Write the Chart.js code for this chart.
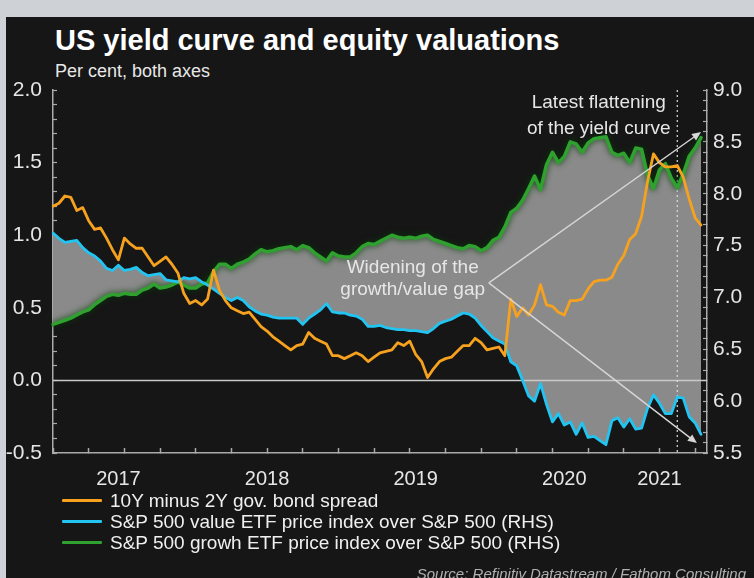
<!DOCTYPE html>
<html>
<head>
<meta charset="utf-8">
<script src="https://cdn.jsdelivr.net/npm/chart.js@4.4.1/dist/chart.umd.min.js"></script>
<style>
  html, body { margin: 0; padding: 0; }
  body { width: 754px; height: 578px; background: #ced2d7; overflow: hidden; position: relative;
         font-family: "Liberation Sans", Arial, sans-serif; }
  #frame { position: absolute; left: 6px; top: 17px; width: 748px; height: 561px; background: #161616; overflow: hidden; }
  #chart { position: absolute; left: 0; top: 0; }
  #title { position: absolute; left: 49px; top: 9px; font-size: 29px; font-weight: bold; color: #fff; line-height: 1; white-space: nowrap; }
  #subtitle { position: absolute; left: 49px; top: 45px; font-size: 18px; color: #e8e8e8; line-height: 1; white-space: nowrap; }
  #legend { position: absolute; left: 56px; top: 473px; }
  .item { display: flex; align-items: center; height: 21px; }
  .swatch { width: 40px; height: 3px; margin-right: 8px; border-radius: 1px; }
  .label { font-size: 19px; color: #f0f0f0; white-space: nowrap; }
  #source { position: absolute; right: 8px; top: 548px; font-size: 15px; font-style: italic; color: #b0b0b0; white-space: nowrap; }
</style>
</head>
<body>
<div id="frame">
  <div id="title">US yield curve and equity valuations</div>
  <div id="subtitle">Per cent, both axes</div>
  <canvas id="chart" width="748" height="561"></canvas>
  <div id="legend"></div>
  <div id="source">Source: Refinitiv Datastream / Fathom Consulting</div>
</div>
<script>
// semi-monthly observations, Jan 2017 to Jul 2021 (last label only extends the axis)
const dates = [
  '2017-01-01','2017-01-16','2017-02-01','2017-02-16','2017-03-01','2017-03-16','2017-04-01','2017-04-16',
  '2017-05-01','2017-05-16','2017-06-01','2017-06-16','2017-07-01','2017-07-16','2017-08-01','2017-08-16',
  '2017-09-01','2017-09-16','2017-10-01','2017-10-16','2017-11-01','2017-11-16','2017-12-01','2017-12-16',
  '2018-01-01','2018-01-16','2018-02-01','2018-02-16','2018-03-01','2018-03-16','2018-04-01','2018-04-16',
  '2018-05-01','2018-05-16','2018-06-01','2018-06-16','2018-07-01','2018-07-16','2018-08-01','2018-08-16',
  '2018-09-01','2018-09-16','2018-10-01','2018-10-16','2018-11-01','2018-11-16','2018-12-01','2018-12-16',
  '2019-01-01','2019-01-16','2019-02-01','2019-02-16','2019-03-01','2019-03-16','2019-04-01','2019-04-16',
  '2019-05-01','2019-05-16','2019-06-01','2019-06-16','2019-07-01','2019-07-16','2019-08-01','2019-08-16',
  '2019-09-01','2019-09-16','2019-10-01','2019-10-16','2019-11-01','2019-11-16','2019-12-01','2019-12-16',
  '2020-01-01','2020-01-16','2020-02-01','2020-02-16','2020-03-01','2020-03-16','2020-04-01','2020-04-16',
  '2020-05-01','2020-05-16','2020-06-01','2020-06-16','2020-07-01','2020-07-16','2020-08-01','2020-08-16',
  '2020-09-01','2020-09-16','2020-10-01','2020-10-16','2020-11-01','2020-11-16','2020-12-01','2020-12-16',
  '2021-01-01','2021-01-16','2021-02-01','2021-02-16','2021-03-01','2021-03-16','2021-04-01','2021-04-16',
  '2021-05-01','2021-05-16','2021-06-01','2021-06-16','2021-07-01','2021-07-16','2021-08-01'
];

// 10Y minus 2Y spread, left axis
const spread = [
  1.20,1.22,1.27,1.26,1.17,1.19,1.10,1.04,1.05,0.98,
  0.90,0.83,0.98,0.94,0.91,0.91,0.85,0.79,0.82,0.85,
  0.80,0.74,0.60,0.53,0.55,0.52,0.56,0.76,0.62,0.55,
  0.50,0.48,0.46,0.47,0.42,0.37,0.34,0.30,0.27,0.24,
  0.21,0.24,0.25,0.33,0.29,0.27,0.25,0.17,0.17,0.15,
  0.17,0.19,0.17,0.13,0.16,0.19,0.20,0.21,0.26,0.24,
  0.27,0.18,0.13,0.02,0.08,0.13,0.15,0.16,0.20,0.24,
  0.24,0.29,0.26,0.21,0.22,0.23,0.17,0.56,0.44,0.50,
  0.45,0.52,0.66,0.52,0.51,0.47,0.45,0.55,0.55,0.56,
  0.63,0.68,0.69,0.69,0.71,0.80,0.86,0.97,1.01,1.13,
  1.37,1.56,1.50,1.47,1.47,1.48,1.40,1.25,1.12,1.07
];

// value ETF over S&P 500, right axis
const valueRatio = [
  7.62,7.57,7.53,7.54,7.55,7.48,7.43,7.40,7.35,7.28,
  7.26,7.31,7.26,7.27,7.29,7.24,7.21,7.22,7.23,7.17,
  7.16,7.15,7.19,7.18,7.19,7.15,7.12,7.08,7.04,7.00,
  6.97,7.00,6.97,6.91,6.87,6.84,6.83,6.81,6.80,6.80,
  6.80,6.80,6.74,6.80,6.84,6.88,6.94,6.86,6.85,6.85,
  6.83,6.82,6.79,6.72,6.72,6.73,6.71,6.70,6.69,6.69,
  6.68,6.68,6.67,6.66,6.70,6.75,6.77,6.79,6.82,6.85,
  6.84,6.80,6.73,6.67,6.61,6.58,6.55,6.38,6.34,6.20,
  6.05,6.00,6.17,5.97,5.80,5.88,5.77,5.80,5.68,5.79,
  5.65,5.66,5.62,5.58,5.81,5.84,5.75,5.83,5.73,5.74,
  5.93,6.06,5.98,5.88,5.88,6.04,6.03,5.85,5.79,5.68
];

// growth ETF over S&P 500, right axis
const growthRatio = [
  6.74,6.76,6.78,6.80,6.83,6.86,6.88,6.93,6.97,7.01,
  7.03,7.02,7.04,7.03,7.03,7.07,7.09,7.13,7.09,7.10,
  7.12,7.15,7.12,7.09,7.09,7.13,7.14,7.25,7.32,7.32,
  7.28,7.32,7.34,7.37,7.42,7.46,7.44,7.45,7.47,7.48,
  7.49,7.46,7.50,7.48,7.43,7.39,7.35,7.43,7.40,7.39,
  7.39,7.43,7.49,7.52,7.51,7.54,7.57,7.60,7.58,7.57,
  7.58,7.57,7.59,7.60,7.56,7.54,7.52,7.50,7.48,7.47,
  7.50,7.49,7.45,7.48,7.55,7.58,7.68,7.82,7.86,7.94,
  8.05,8.17,8.04,8.28,8.40,8.30,8.36,8.50,8.48,8.40,
  8.49,8.53,8.54,8.55,8.40,8.37,8.39,8.30,8.44,8.43,
  8.18,8.05,8.23,8.29,8.15,8.06,8.19,8.36,8.44,8.54
];

const yearTicks = ['2017', '2018', '2019', '2020', '2021'];
const yearTickDates = ['2017-06-16', '2018-07-01', '2019-07-16', '2020-08-01', '2021-04-01'];

const flatDate = '2021-05-16';

function isQuarter(d) {
  return /-(01|04|07|10)-01$/.test(d || '');
}

function halfStepLabel(v) {
  return Math.round(v * 10) % 5 === 0 ? v.toFixed(1) : '';
}

function arrow(ctx, x0, y0, x1, y1) {
  var ang = Math.atan2(y1 - y0, x1 - x0);
  ctx.beginPath();
  ctx.moveTo(x0, y0);
  ctx.lineTo(x1 - 6 * Math.cos(ang), y1 - 6 * Math.sin(ang));
  ctx.stroke();
  ctx.beginPath();
  ctx.moveTo(x1, y1);
  ctx.lineTo(x1 - 9 * Math.cos(ang) + 4 * Math.sin(ang), y1 - 9 * Math.sin(ang) - 4 * Math.cos(ang));
  ctx.lineTo(x1 - 9 * Math.cos(ang) - 4 * Math.sin(ang), y1 - 9 * Math.sin(ang) + 4 * Math.cos(ang));
  ctx.closePath();
  ctx.fill();
}

const annotations = {
  id: 'annotations',
  beforeDatasetsDraw(chart) {
    const {ctx, chartArea: a, scales: {x, y}} = chart;
    ctx.save();
    // zero line
    var y0 = y.getPixelForValue(0);
    ctx.strokeStyle = '#c9c9c9';
    ctx.lineWidth = 1.5;
    ctx.beginPath();
    ctx.moveTo(a.left, y0);
    ctx.lineTo(a.right, y0);
    ctx.stroke();
    // dotted marker
    var xd = x.getPixelForValue(dates.indexOf(flatDate));
    ctx.strokeStyle = '#dddddd';
    ctx.lineWidth = 1.2;
    ctx.setLineDash([2, 3]);
    ctx.beginPath();
    ctx.moveTo(xd, a.top);
    ctx.lineTo(xd, a.bottom);
    ctx.stroke();
    ctx.restore();
  },
  beforeDatasetDraw(chart, args) {
    // dark glow round the growth line
    if (args.index === 2) {
      chart.ctx.save();
      chart.ctx.shadowColor = '#073d07';
      chart.ctx.shadowBlur = 6;
    }
  },
  afterDatasetDraw(chart, args) {
    if (args.index === 2) {
      chart.ctx.restore();
    }
  },
  afterDatasetsDraw(chart) {
    const {ctx, scales: {x, y1}} = chart;
    ctx.save();
    ctx.strokeStyle = '#d6d6d6';
    ctx.fillStyle = '#d6d6d6';
    ctx.lineWidth = 1.4;
    var ax = x.getPixelForValue(73.3), ay = y1.getPixelForValue(7.14);
    arrow(ctx, ax, ay, x.getPixelForValue(109.0), y1.getPixelForValue(8.595));
    arrow(ctx, ax, ay, x.getPixelForValue(108.3), y1.getPixelForValue(5.596));

    ctx.fillStyle = '#e6e6e6';
    ctx.font = '19px "Liberation Sans", Arial, sans-serif';
    ctx.textAlign = 'center';
    ctx.textBaseline = 'middle';
    ctx.fillText('Latest flattening', x.getPixelForValue(91.8), y1.getPixelForValue(8.875));
    ctx.fillText('of the yield curve', x.getPixelForValue(91.8), y1.getPixelForValue(8.63));
    ctx.fillText('Widening of the', x.getPixelForValue(60.5), y1.getPixelForValue(7.29));
    ctx.fillText('growth/value gap', x.getPixelForValue(60.5), y1.getPixelForValue(7.07));
    ctx.restore();
  }
};

Chart.defaults.font.family = '"Liberation Sans", Arial, sans-serif';

const chart = new Chart(document.getElementById('chart'), {
  type: 'line',
  data: {
    labels: dates,
    datasets: [{
      label: '10Y minus 2Y gov. bond spread',
      data: spread,
      yAxisID: 'y',
      borderColor: '#f6a21e',
      borderWidth: 2.8,
      fill: false
    }, {
      label: 'S&P 500 value ETF price index over S&P 500 (RHS)',
      data: valueRatio,
      yAxisID: 'y1',
      borderColor: '#22c4f2',
      backgroundColor: '#8a8a8a',
      borderWidth: 2.8,
      fill: '+1'
    }, {
      label: 'S&P 500 growh ETF price index over S&P 500 (RHS)',
      data: growthRatio,
      yAxisID: 'y1',
      borderColor: '#2ea12e',
      borderWidth: 3.5,
      fill: false
    }]
  },
  options: {
    responsive: false,
    animation: false,
    devicePixelRatio: 1,
    elements: {
      point: { radius: 0 },
      line: { tension: 0, borderJoinStyle: 'round', borderCapStyle: 'round' }
    },
    layout: {
      padding: { top: 73, bottom: 85, left: 0, right: 0 }
    },
    plugins: {
      legend: { display: false },
      tooltip: { enabled: false },
      filler: { drawTime: 'beforeDatasetsDraw' }
    },
    scales: {
      x: {
        ticks: {
          autoSkip: false,
          maxRotation: 0,
          minRotation: 0,
          color: '#e6e6e6',
          font: { size: 20 },
          padding: 19,
          callback: function (v, i) {
            var k = yearTickDates.indexOf(dates[i]);
            return k >= 0 ? yearTicks[k] : '';
          }
        },
        grid: {
          drawOnChartArea: false,
          tickLength: -5,
          tickWidth: 1.5,
          tickColor: c => isQuarter(dates[c.index]) ? '#aaaaaa' : 'rgba(0,0,0,0)'
        },
        border: { color: '#aaaaaa', width: 1.5 },
        afterFit: s => { s.height = 40; }
      },
      y: {
        position: 'left',
        min: -0.5,
        max: 2.0,
        ticks: {
          stepSize: 0.1,
          autoSkip: false,
          color: '#e6e6e6',
          font: { size: 21 },
          padding: 15,
          callback: halfStepLabel
        },
        grid: { drawOnChartArea: false, tickLength: -4, tickWidth: 1.2, tickColor: '#aaaaaa' },
        border: { color: '#aaaaaa', width: 1.5 },
        afterFit: s => { s.width = 47; }
      },
      y1: {
        position: 'right',
        min: 5.5,
        max: 9.0,
        ticks: {
          stepSize: 0.1,
          autoSkip: false,
          color: '#e6e6e6',
          font: { size: 21 },
          padding: 10,
          callback: halfStepLabel
        },
        grid: { drawOnChartArea: false, tickLength: -4, tickWidth: 1.2, tickColor: '#aaaaaa' },
        border: { color: '#aaaaaa', width: 1.5 },
        afterFit: s => { s.width = 47; }
      }
    }
  },
  plugins: [annotations]
});

// legend built from the chart's datasets
var legendEl = document.getElementById('legend');
chart.data.datasets.forEach(function (ds) {
  var row = document.createElement('div');
  row.className = 'item';
  var sw = document.createElement('span');
  sw.className = 'swatch';
  sw.style.background = ds.borderColor;
  var tx = document.createElement('span');
  tx.className = 'label';
  tx.textContent = ds.label;
  row.appendChild(sw);
  row.appendChild(tx);
  legendEl.appendChild(row);
});
</script>
</body>
</html>
